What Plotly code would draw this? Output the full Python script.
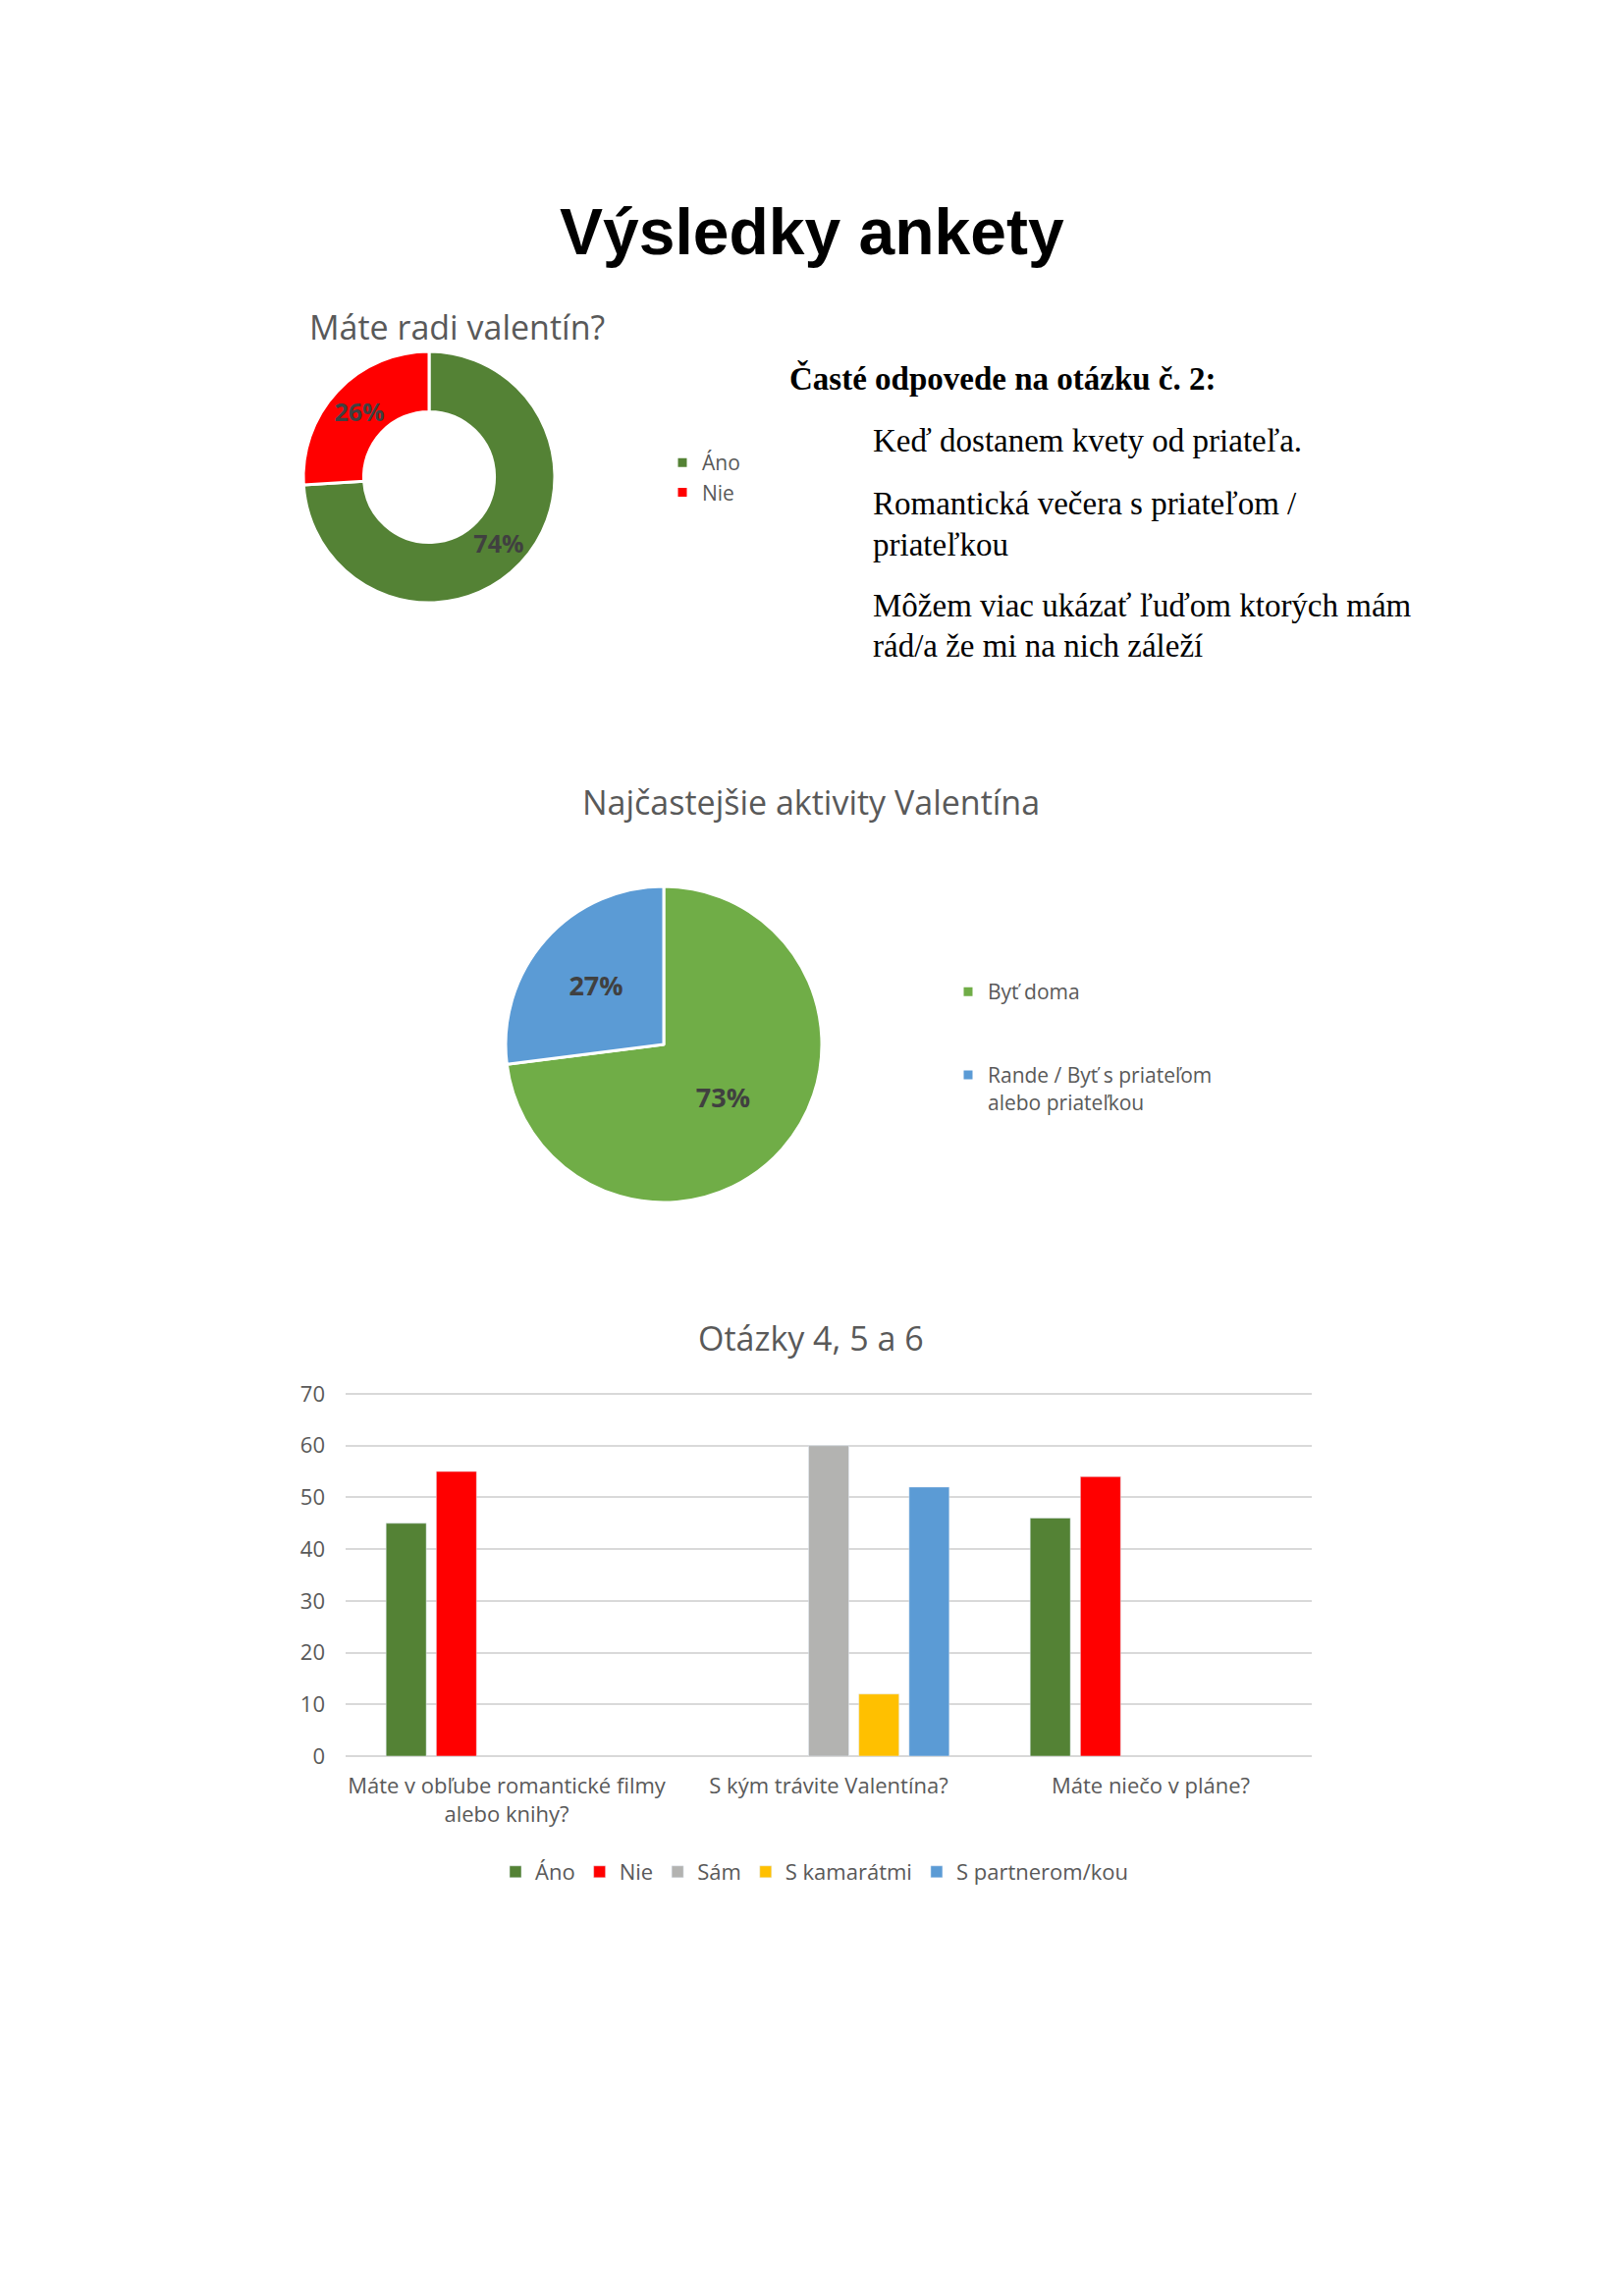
import plotly.graph_objects as go

W, H = 1654, 2339

# ---------------- data ----------------
q1_labels = ["Áno", "Nie"]
q1_values = [74, 26]
q1_colors = ["#548235", "#FF0000"]

q3_labels = ["Byť doma", "Rande / Byť s priateľom<br>alebo priateľkou"]
q3_values = [73, 27]
q3_colors = ["#70AD47", "#5B9BD5"]

bar_categories = ["Máte v obľube romantické filmy<br>alebo knihy?",
                  "S kým trávite Valentína?",
                  "Máte niečo v pláne?"]
bar_series = ["Áno", "Nie", "Sám", "S kamarátmi", "S partnerom/kou"]
ano_vals = [45, None, 46]
nie_vals = [55, None, 54]
sam_vals = [None, 60, None]
kam_vals = [None, 12, None]
par_vals = [None, 52, None]
bar_colors = ["#548235", "#FF0000", "#B3B3B1", "#FFC000", "#5B9BD5"]
y_ticks = [0, 10, 20, 30, 40, 50, 60, 70]

heading = "Časté odpovede na otázku č. 2:"
answer_lines = ["Keď dostanem kvety od priateľa.",
                "Romantická večera s priateľom /",
                "priateľkou",
                "Môžem viac ukázať ľuďom ktorých mám",
                "rád/a že mi na nich záleží"]
answer_y = [449, 513, 555, 617, 658]

TXT = "#595959"
SANS = "Open Sans"


def px(x):
    return x / W


def py(y):
    return 1 - y / H


# legend entries for the second pie get extra blank lines for Excel-like spacing
q3_legend_labels = [q3_labels[0] + "<br> <br> ", q3_labels[1]]

fig = go.Figure()

# donut
cx, cy, r = 437, 486, 128
fig.add_trace(go.Pie(
    labels=q1_labels, values=q1_values, hole=0.52, sort=False,
    direction="clockwise", rotation=0,
    marker=dict(colors=q1_colors, line=dict(color="white", width=3)),
    textinfo="percent", textposition="inside", insidetextorientation="horizontal",
    insidetextfont=dict(family=SANS, size=25, color="#404040", weight="bold"),
    domain=dict(x=[px(cx - r), px(cx + r)], y=[py(cy + r), py(cy - r)]),
    legend="legend",
))

# pie
cx2, cy2, r2 = 676, 1064, 161
fig.add_trace(go.Pie(
    labels=q3_legend_labels, values=q3_values, sort=False,
    direction="clockwise", rotation=0,
    marker=dict(colors=q3_colors, line=dict(color="white", width=3)),
    textinfo="percent", textposition="inside", insidetextorientation="horizontal",
    insidetextfont=dict(family=SANS, size=27, color="#404040", weight="bold"),
    domain=dict(x=[px(cx2 - r2), px(cx2 + r2)], y=[py(cy2 + r2), py(cy2 - r2)]),
    legend="legend2",
))

# bars
for name, vals, col in zip(bar_series, [ano_vals, nie_vals, sam_vals, kam_vals, par_vals], bar_colors):
    fig.add_trace(go.Bar(x=bar_categories, y=vals, name=name, marker_color=col,
                         legend="legend3"))

y0_px, y70_px = 1789, 1420
ytop = 70.4
ytop_px = y0_px - (y0_px - y70_px) * ytop / 70

fig.update_layout(
    width=W, height=H, autosize=False,
    margin=dict(l=0, r=0, t=0, b=0, autoexpand=False),
    paper_bgcolor="white", plot_bgcolor="white",
    font=dict(family=SANS, color=TXT),
    barmode="group", bargap=0.22, bargroupgap=0.2,
    xaxis=dict(domain=[px(352), px(1336)], showgrid=False, showline=False, automargin=False,
               tickfont=dict(family=SANS, size=22, color=TXT), ticks="",
               ticklabelstandoff=15),
    yaxis=dict(domain=[py(y0_px), py(ytop_px)], range=[0, ytop], tickvals=y_ticks,
               automargin=False,
               showgrid=True, gridcolor="#D9D9D9", gridwidth=2,
               zeroline=True, zerolinecolor="#D9D9D9", zerolinewidth=2,
               showline=False, ticks="", ticklabelstandoff=20,
               tickfont=dict(family=SANS, size=22, color=TXT)),
    legend=dict(x=px(675), y=py(451), xanchor="left", yanchor="top",
                font=dict(family=SANS, size=21, color=TXT), bgcolor="rgba(0,0,0,0)"),
    legend2=dict(x=px(966), y=py(990), xanchor="left", yanchor="top", valign="top",
                 font=dict(family=SANS, size=21, color=TXT), bgcolor="rgba(0,0,0,0)"),
    legend3=dict(x=px(830), y=py(1886), xanchor="center", yanchor="top",
                 orientation="h",
                 font=dict(family=SANS, size=22, color=TXT), bgcolor="rgba(0,0,0,0)"),
)

ann = []
ann.append(dict(text="Výsledky ankety", x=px(827), y=py(236), xanchor="center", yanchor="middle",
                font=dict(family="Liberation Sans", size=66, color="black", weight="bold")))
ann.append(dict(text="Máte radi valentín?", x=px(465), y=py(333), xanchor="center", yanchor="middle",
                font=dict(family=SANS, size=34, color=TXT)))
ann.append(dict(text="Najčastejšie aktivity Valentína", x=px(826), y=py(817), xanchor="center",
                yanchor="middle", font=dict(family=SANS, size=34, color=TXT)))
ann.append(dict(text="Otázky 4, 5 a 6", x=px(826), y=py(1363), xanchor="center", yanchor="middle",
                font=dict(family=SANS, size=34, color=TXT)))
ann.append(dict(text=heading, x=px(802), y=py(386), xanchor="left", yanchor="middle",
                font=dict(family="Liberation Serif", size=33, color="black", weight="bold")))
for line, yy in zip(answer_lines, answer_y):
    ann.append(dict(text=line, x=px(887), y=py(yy), xanchor="left", yanchor="middle",
                    font=dict(family="Liberation Serif", size=33, color="black")))
for a in ann:
    a.update(xref="paper", yref="paper", showarrow=False)
fig.update_layout(annotations=ann)

fig.write_html("out.html")
